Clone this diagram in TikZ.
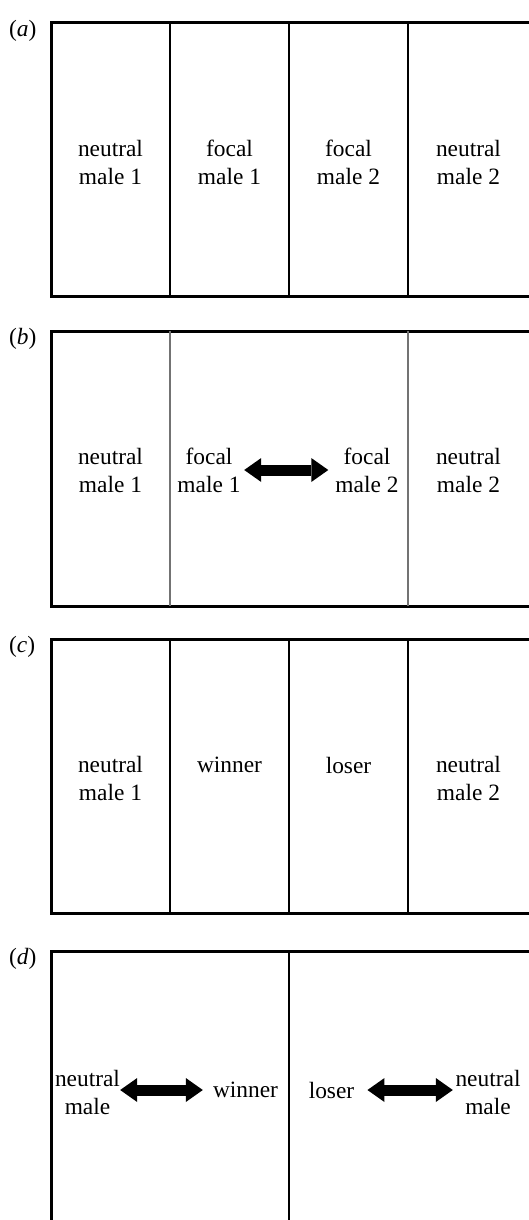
\documentclass[tikz,border=0pt]{standalone}
\usepackage{fontspec}
\setmainfont{Liberation Serif}
\usetikzlibrary{arrows.meta}
\begin{document}
\begin{tikzpicture}[x=1pt,y=-1pt,
  txt/.style={font=\fontsize{23.4}{28}\selectfont, align=center, inner sep=0pt},
  lab/.style={font=\fontsize{23.4}{28}\selectfont, anchor=north west, inner sep=0pt},
  frame/.style={line width=3pt, black, line join=miter},
  divider/.style={line width=2pt, black},
  graydivider/.style={line width=1.6pt, black!55},
  bigtip/.tip={Triangle[width=24pt,length=17pt,line width=0pt]},
  bigarrow/.style={line width=11pt, bigtip-bigtip}
]
\useasboundingbox (0,0) rectangle (529,1220);

% ---------- panel (a)
\node[lab] (la) at (9,20) {(\textit{a})};
\draw[frame] (535,23) -- (51,23) -- (51,296) -- (535,296);
\draw[divider] (170,23) -- (170,296);
\draw[divider] (289,23) -- (289,296);
\draw[divider] (408,23) -- (408,296);
\node[txt] (a1) at (110.5,162) {neutral\\male 1};
\node[txt] (a2) at (229.5,162) {focal\\male 1};
\node[txt] (a3) at (348.5,162) {focal\\male 2};
\node[txt] (a4) at (468.5,162) {neutral\\male 2};

% ---------- panel (b)
\node[lab] (lb) at (9,328) {(\textit{b})};
\draw[frame] (535,331) -- (51,331) -- (51,606) -- (535,606);
\draw[graydivider] (170,331) -- (170,606);
\draw[graydivider] (408,331) -- (408,606);
\node[txt] (b1) at (110.5,470) {neutral\\male 1};
\node[txt] (b2) at (209,470) {focal\\male 1};
\node[txt] (b3) at (367,470) {focal\\male 2};
\node[txt] (b4) at (468.5,470) {neutral\\male 2};
\draw[bigarrow, shorten <=3.5pt, shorten >=7pt] (b2.east) -- (b3.west);

% ---------- panel (c)
\node[lab] (lc) at (9,636) {(\textit{c})};
\draw[frame] (535,639) -- (51,639) -- (51,913) -- (535,913);
\draw[divider] (170,639) -- (170,913);
\draw[divider] (289,639) -- (289,913);
\draw[divider] (408,639) -- (408,913);
\node[txt] (c1) at (110.5,778) {neutral\\male 1};
\node[txt] (c2) at (229.5,765) {winner};
\node[txt] (c3) at (348.5,765) {loser};
\node[txt] (c4) at (468.5,778) {neutral\\male 2};

% ---------- panel (d)
\node[lab] (ld) at (9,948) {(\textit{d})};
\draw[frame] (535,951) -- (51,951) -- (51,1230);
\draw[divider] (288.5,951) -- (288.5,1230);
\node[txt] (d1) at (87.5,1092) {neutral\\male};
\node[txt] (d2) at (245.5,1090) {winner};
\node[txt] (d3) at (331.5,1090) {loser};
\node[txt] (d4) at (488,1092) {neutral\\male};
\draw[bigarrow, shorten <=0pt, shorten >=10pt] ([yshift=2pt]d1.east) -- (d2.west);
\draw[bigarrow, shorten <=13pt, shorten >=2.5pt] (d3.east) -- ([yshift=2pt]d4.west);
\end{tikzpicture}
\end{document}
